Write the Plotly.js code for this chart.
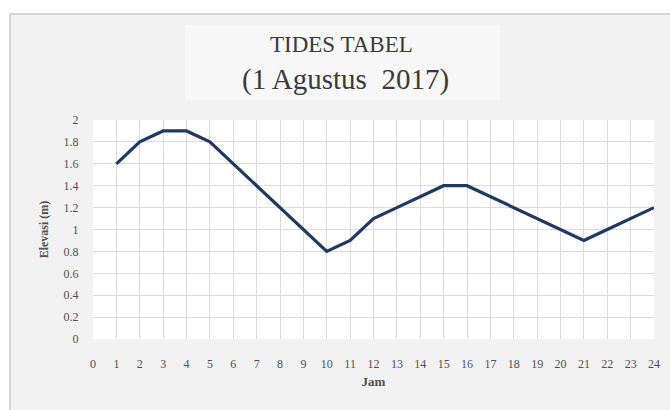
<!DOCTYPE html>
<html>
<head>
<meta charset="utf-8">
<script src="https://cdn.plot.ly/plotly-3.0.1.min.js"></script>
<style>html,body{margin:0;padding:0;background:#fff;}#chart{width:670px;height:410px;}</style>
</head>
<body>
<div id="chart"></div>
<script>
const jam = [1,2,3,4,5,6,7,8,9,10,11,12,13,14,15,16,17,18,19,20,21,22,23,24];
const elevasi = [1.6,1.8,1.9,1.9,1.8,1.6,1.4,1.2,1.0,0.8,0.9,1.1,1.2,1.3,1.4,1.4,1.3,1.2,1.1,1.0,0.9,1.0,1.1,1.2];
const xTicks = [0,1,2,3,4,5,6,7,8,9,10,11,12,13,14,15,16,17,18,19,20,21,22,23,24];
const yTicks = [0,0.2,0.4,0.6,0.8,1,1.2,1.4,1.6,1.8,2];
const yTickText = ['0','0.2','0.4','0.6','0.8','1','1.2','1.4','1.6','1.8','2'];

const fontFam = '"Liberation Serif", "Times New Roman", serif';

// plot area in pixels: x 93..654, y 120..339
const L = 93, R = 654, T = 120, B = 339;
const px = v => (v - L) / (R - L);
const py = v => (B - v) / (B - T);

const trace = {
  x: jam, y: elevasi, type: 'scatter', mode: 'lines',
  line: {color: '#1f3864', width: 3.2},
  hoverinfo: 'skip'
};

const layout = {
  width: 670, height: 410,
  paper_bgcolor: '#f2f2f2',
  plot_bgcolor: '#ffffff',
  margin: {l: L, r: 670 - R, t: T, b: 410 - B},
  showlegend: false,
  font: {family: fontFam, color: '#595959', size: 12},
  xaxis: {
    range: [0, 24], tickvals: xTicks, ticktext: xTicks.map(String),
    showgrid: true, gridcolor: '#dcdcdc', gridwidth: 1,
    zeroline: false, showline: false,
    ticks: 'outside', ticklen: 14, tickcolor: 'rgba(0,0,0,0)',
    tickfont: {family: fontFam, size: 12, color: '#505050'},
    title: {text: '<b>Jam</b>', font: {family: fontFam, size: 13, color: '#505050'}, standoff: 6}
  },
  yaxis: {
    range: [0, 2], tickvals: yTicks, ticktext: yTickText,
    showgrid: true, gridcolor: '#dcdcdc', gridwidth: 1,
    zeroline: false, showline: false,
    ticks: 'outside', ticklen: 11, tickcolor: 'rgba(0,0,0,0)',
    tickfont: {family: fontFam, size: 12, color: '#505050'},
    title: {text: '<b>Elevasi (m)</b>', font: {family: fontFam, size: 12, color: '#505050'}, standoff: 12}
  },
  shapes: [
    {type: 'rect', xref: 'paper', yref: 'paper', layer: 'below',
     x0: px(0), x1: px(670), y0: py(14), y1: py(0),
     fillcolor: '#ffffff', line: {width: 0}},
    {type: 'rect', xref: 'paper', yref: 'paper', layer: 'below',
     x0: px(0), x1: px(10), y0: py(410), y1: py(0),
     fillcolor: '#ffffff', line: {width: 0}},
    {type: 'line', xref: 'paper', yref: 'paper', layer: 'below',
     x0: px(10), x1: px(670), y0: py(14), y1: py(14),
     line: {color: '#d6d6d6', width: 2}},
    {type: 'line', xref: 'paper', yref: 'paper', layer: 'below',
     x0: px(10), x1: px(10), y0: py(14), y1: py(410),
     line: {color: '#d6d6d6', width: 2}},
    {type: 'rect', xref: 'paper', yref: 'paper', layer: 'below',
     x0: px(185), x1: px(500), y0: py(100), y1: py(25),
     fillcolor: '#f7f7f7', line: {width: 0}}
  ],
  annotations: [
    {text: 'TIDES TABEL', xref: 'paper', yref: 'paper', x: px(341), y: py(45),
     showarrow: false, xanchor: 'center', yanchor: 'middle',
     font: {family: fontFam, size: 23, color: '#3a3a3a'}},
    {text: '(1 Agustus\u00a0 2017)', xref: 'paper', yref: 'paper', x: px(345), y: py(79),
     showarrow: false, xanchor: 'center', yanchor: 'middle',
     font: {family: fontFam, size: 29, color: '#3a3a3a'}}
  ]
};

Plotly.newPlot('chart', [trace], layout, {staticPlot: true, displayModeBar: false});
</script>
</body>
</html>
